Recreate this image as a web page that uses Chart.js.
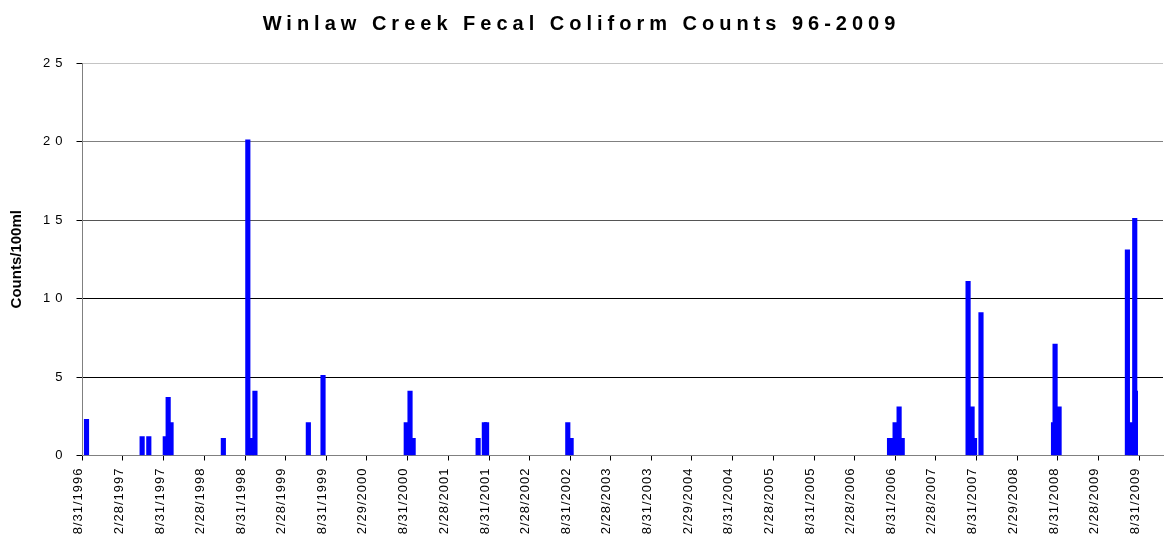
<!DOCTYPE html>
<html>
<head>
<meta charset="utf-8">
<title>Winlaw Creek Fecal Coliform Counts 96-2009</title>
<script src="https://cdn.jsdelivr.net/npm/chart.js@4.4.1/dist/chart.umd.min.js"></script>
<style>
  html, body { margin: 0; padding: 0; background: #ffffff; }
  #wrap { position: relative; width: 1164px; height: 536px; }
</style>
</head>
<body>
<div id="wrap"><canvas id="chart"></canvas></div>
<script>
// Sampling dates (M/D/YYYY) and fecal coliform counts per 100 ml
const sampleDates = [
  '9/17/1996',
  '5/25/1997', '6/24/1997', '9/6/1997', '9/19/1997', '10/2/1997',
  '5/25/1998', '9/12/1998', '9/28/1998', '10/14/1998',
  '6/11/1999', '8/16/1999',
  '8/24/2000', '9/10/2000', '9/24/2000',
  '7/13/2001', '8/10/2001', '8/20/2001',
  '8/20/2002', '9/4/2002',
  '8/5/2006', '8/14/2006', '8/30/2006', '9/17/2006', '10/1/2006',
  '7/24/2007', '8/11/2007', '8/22/2007', '9/20/2007',
  '8/11/2008', '8/18/2008', '9/5/2008',
  '7/9/2009', '7/23/2009', '8/11/2009', '8/14/2009'
];
const counts = [
  2.3,
  1.2, 1.2, 1.2, 3.7, 2.1,
  1.1, 20.1, 1.1, 4.1,
  2.1, 5.1,
  2.1, 4.1, 1.1,
  1.1, 2.1, 2.1,
  2.1, 1.1,
  1.1, 1.1, 2.1, 3.1, 1.1,
  11.1, 3.1, 1.1, 9.1,
  2.1, 7.1, 3.1,
  13.1, 2.1, 15.1, 4.1
];

// Half-yearly date ticks along the time axis
const tickLabels = [
  '8/31/1996', '2/28/1997', '8/31/1997', '2/28/1998', '8/31/1998', '2/28/1999',
  '8/31/1999', '2/29/2000', '8/31/2000', '2/28/2001', '8/31/2001', '2/28/2002',
  '8/31/2002', '2/28/2003', '8/31/2003', '2/29/2004', '8/31/2004', '2/28/2005',
  '8/31/2005', '2/28/2006', '8/31/2006', '2/28/2007', '8/31/2007', '2/29/2008',
  '8/31/2008', '2/28/2009', '8/31/2009'
];
const axisStart = '8/30/1996';
const axisEnd = '12/16/2009';

const yTicks = [0, 5, 10, 15, 20, 25];
const yGridColors = ['#808080', '#000000', '#000000', '#555555', '#808080', '#c4c4c4'];

// Day number (UTC) of an M/D/YYYY date string
function dayNumber(s) {
  const [m, d, y] = s.split('/').map(Number);
  return Date.UTC(y, m - 1, d) / 86400000;
}

const tickDays = tickLabels.map(dayNumber);
const points = sampleDates.map((s, i) => ({ x: dayNumber(s), y: counts[i] }));

const FONT = "'Liberation Sans', Arial, Helvetica, sans-serif";

// Apply canvas letter spacing around a drawing method of a chart element
function withSpacing(obj, method, spacing) {
  if (!obj || obj['$spaced_' + method]) return;
  const original = obj[method];
  obj[method] = function (...args) {
    const ctx = this.ctx;
    ctx.save();
    ctx.letterSpacing = spacing;
    original.apply(this, args);
    ctx.restore();
  };
  obj['$spaced_' + method] = true;
}

const letterSpacingPlugin = {
  id: 'letterSpacing',
  beforeDraw(chart) {
    withSpacing(chart.titleBlock, 'draw', '5px');
    withSpacing(chart.scales.x, 'drawLabels', '1px');
    withSpacing(chart.scales.y, 'drawLabels', '5px');
  }
};

new Chart(document.getElementById('chart'), {
  type: 'bar',
  data: {
    datasets: [{
      data: points,
      backgroundColor: '#0000ff',
      borderWidth: 0,
      barThickness: 4.5
    }]
  },
  plugins: [letterSpacingPlugin],
  options: {
    responsive: true,
    maintainAspectRatio: false,
    animation: false,
    events: [],
    layout: { autoPadding: false, padding: { top: 0, right: 1, bottom: 0, left: 0 } },
    plugins: {
      legend: { display: false },
      tooltip: { enabled: false },
      title: {
        display: true,
        text: 'Winlaw Creek Fecal Coliform Counts 96-2009',
        color: '#000000',
        font: { family: FONT, size: 20, weight: 'bold', lineHeight: 1.2 },
        padding: { top: 12, bottom: 27 }
      }
    },
    scales: {
      x: {
        type: 'linear',
        offset: false,
        min: dayNumber(axisStart),
        max: dayNumber(axisEnd),
        afterBuildTicks: (scale) => {
          scale.ticks = tickDays.map(v => ({ value: v }));
        },
        afterFit: (scale) => { scale.height = 80.5; },
        grid: {
          display: true,
          offset: false,
          drawOnChartArea: false,
          drawTicks: true,
          tickLength: 5,
          tickColor: '#000000',
          tickWidth: 1
        },
        border: { display: true, color: '#808080', width: 1 },
        ticks: {
          autoSkip: false,
          minRotation: 90,
          maxRotation: 90,
          padding: 7,
          labelOffset: -4,
          color: '#000000',
          font: { family: FONT, size: 13 },
          callback: (value, index) => tickLabels[index]
        }
      },
      y: {
        min: 0,
        max: 25,
        afterBuildTicks: (scale) => {
          scale.ticks = yTicks.map(v => ({ value: v }));
        },
        afterFit: (scale) => { scale.width = 82.5; },
        grid: {
          color: (c) => yGridColors[yTicks.indexOf(c.tick.value)] || '#000000',
          tickColor: '#000000',
          tickLength: 6,
          lineWidth: 1
        },
        border: { display: true, color: '#808080', width: 1 },
        ticks: {
          padding: 9,
          color: '#000000',
          font: { family: FONT, size: 13 }
        },
        title: {
          display: true,
          text: 'Counts/100ml',
          color: '#000000',
          font: { family: FONT, size: 15, weight: 'bold', lineHeight: 1.2 },
          padding: { top: 8, bottom: 0 }
        }
      }
    }
  }
});
</script>
</body>
</html>
